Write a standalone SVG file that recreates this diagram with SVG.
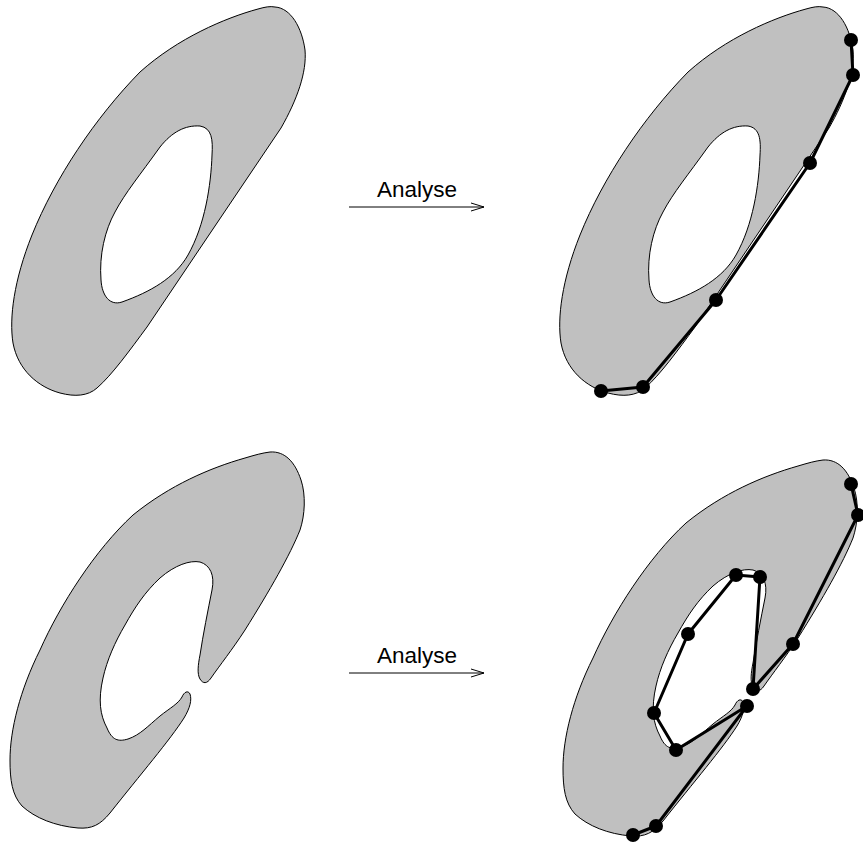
<svg xmlns="http://www.w3.org/2000/svg" xmlns:xlink="http://www.w3.org/1999/xlink" width="863" height="845" viewBox="0 0 863 845">
<style>
.shape{fill:#c0c0c0;stroke:#000;stroke-width:1;fill-rule:evenodd}
.hull{fill:none;stroke:#000;stroke-width:3;stroke-linejoin:round}
.dot{fill:#000}
.arrow{fill:none;stroke:#000;stroke-width:1}
.label{font-family:"Liberation Sans",Arial,sans-serif;font-size:22.5px;fill:#000;text-anchor:middle}
</style>
<defs>
<path id="ring" d="M275,7 C291,8 302,28 305,50 C307,72 297,100 281,128 L147,327 C130,350 112,375 97,388 C88,396 75,397 60,393 C38,387 18,370 13,343 C9,318 14,280 32,235 C55,178 95,118 140,72 C178,38 225,18 258,9 C265,7 270,6 275,7 Z M200,126 C212,128 213,140 212,155 C211,185 205,225 188,255 C175,278 150,292 122,302 C110,306 102,296 101,280 C99,255 105,230 115,212 C125,193 140,175 160,147 C172,132 185,125 200,126 Z"/>
<path id="cshape" d="M270,452 C285,451 295,462 301,480 C306,495 305,515 300,530 C290,555 270,590 245,630 C232,650 220,665 211,678 C207,684 203,684 200,679 C197,674 198,665 200,655 C203,635 208,610 212,590 C215,575 210,565 200,562 C190,560 175,565 160,578 C145,592 135,607 125,625 C115,642 107,660 103,678 C98,700 100,715 107,728 C112,740 118,742 128,739 C140,735 148,726 160,716 C170,708 178,704 182,697 C184,692 188,690 190,694 C192,700 190,708 184,718 C170,740 140,775 110,813 C100,825 92,829 78,828 C55,826 35,818 22,806 C12,795 10,780 10,760 C10,730 20,690 40,650 C60,605 95,550 133,515 C170,485 210,468 245,458 C255,455 262,453 270,452 Z"/>
<marker id="head" markerWidth="16" markerHeight="10" refX="14" refY="5" orient="auto" markerUnits="userSpaceOnUse">
<path d="M1,1 L14,5 L1,9" fill="none" stroke="#000" stroke-width="1"/>
</marker>
</defs>
<g id="shape-top-left">
<use xlink:href="#ring" class="shape"/>
</g>
<g id="shape-top-right">
<use xlink:href="#ring" class="shape" transform="translate(548,0)"/>
<polyline class="hull" points="601,391 643,387 716,300 810,163 853,75 851,40"/>
<g class="dot">
<circle cx="601" cy="391" r="7"/><circle cx="643" cy="387" r="7"/><circle cx="716" cy="300" r="7"/><circle cx="810" cy="163" r="7"/><circle cx="853" cy="75" r="7"/><circle cx="851" cy="40" r="7"/>
</g>
</g>
<g id="shape-bottom-left">
<use xlink:href="#cshape" class="shape"/>
</g>
<g id="shape-bottom-right">
<use xlink:href="#cshape" class="shape" transform="translate(553,8)"/>
<polyline class="hull" points="633,835 656,826 747,706 676,750 654,713 688,634 736,575 760,577 753,689 793,644 858,515 851,484"/>
<g class="dot">
<circle cx="633" cy="835" r="7"/><circle cx="656" cy="826" r="7"/><circle cx="747" cy="706" r="7"/><circle cx="676" cy="750" r="7"/><circle cx="654" cy="713" r="7"/><circle cx="688" cy="634" r="7"/><circle cx="736" cy="575" r="7"/><circle cx="760" cy="577" r="7"/><circle cx="753" cy="689" r="7"/><circle cx="793" cy="644" r="7"/><circle cx="858" cy="515" r="7"/><circle cx="851" cy="484" r="7"/>
</g>
</g>
<g id="connectors">
<line class="arrow" x1="349" y1="207" x2="484" y2="207" marker-end="url(#head)"/>
<text class="label" x="417" y="197">Analyse</text>
<line class="arrow" x1="349" y1="673" x2="484" y2="673" marker-end="url(#head)"/>
<text class="label" x="417" y="663">Analyse</text>
</g>
</svg>
